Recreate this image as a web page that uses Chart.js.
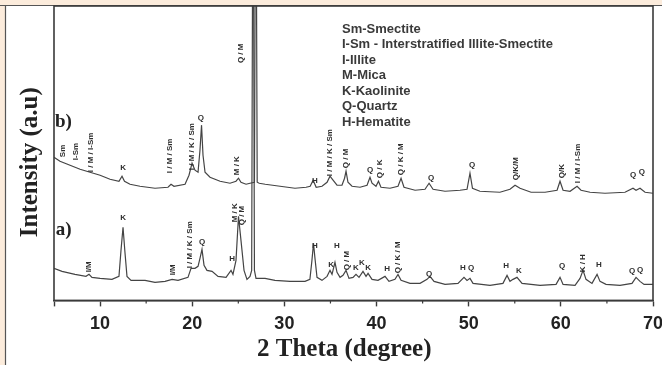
<!DOCTYPE html>
<html>
<head>
<meta charset="utf-8">
<script src="https://cdn.jsdelivr.net/npm/chart.js@4.4.1/dist/chart.umd.min.js"></script>
<style>
    html, body { margin: 0; padding: 0; background: #ffffff; }
    #xrd { display: block; }
</style>
</head>
<body>
<canvas id="xrd" width="662" height="365"></canvas>
<script>
// 2 theta (degree) and intensity (a.u.)
const twoThetaA = [5.0, 5.87, 7.28, 8.47, 8.8, 9.12, 10.0, 11.29, 12.05, 12.27, 12.49, 12.7, 12.92, 13.36, 14.88, 15.96,
    17.05, 17.81, 18.46, 19.54, 19.87, 20.3, 20.63, 20.84, 21.06, 21.28, 21.6, 22.15, 22.8, 23.67, 24.21, 24.42,
    24.75, 25.02, 25.29, 25.62, 25.94, 26.27, 26.45, 26.6, 26.75, 26.92, 27.9, 28.98, 30.61, 32.24, 32.77, 32.99,
    33.16, 33.32, 33.54, 34.08, 34.63, 34.95, 35.17, 35.49, 35.71, 36.04, 36.36, 36.69, 37.01, 37.45, 37.77, 38.1,
    38.53, 38.86, 39.08, 39.51, 40.16, 40.92, 41.35, 42.0, 42.33, 42.66, 43.63, 44.72, 45.48, 45.8, 46.24, 47.43,
    48.84, 49.49, 49.82, 50.14, 50.47, 52.31, 53.72, 54.16, 54.48, 54.81, 55.24, 55.79, 57.74, 59.48, 59.91, 60.24,
    61.54, 62.08, 62.41, 62.73, 63.38, 63.93, 64.25, 64.9, 66.42, 67.72, 68.16, 68.59, 69.03, 70.0];
const intensityA = [32, 29, 26, 24, 26, 23, 22, 21, 24, 50, 73, 48, 24, 20, 20, 18,
    19, 21, 20, 23, 32, 32, 34, 42, 51, 35, 30, 29, 24, 23, 30, 26,
    40, 84, 60, 30, 21, 24, 30, 500, 30, 22, 22, 20, 19, 19, 21, 40,
    57, 42, 23, 20, 24, 30, 26, 38, 28, 23, 25, 30, 22, 23, 26, 23,
    29, 24, 27, 21, 20, 24, 19, 21, 26, 20, 17, 17, 21, 24, 19, 16,
    17, 23, 20, 22, 17, 15, 17, 25, 19, 21, 23, 17, 15, 16, 23, 16,
    15, 22, 30, 21, 17, 26, 19, 16, 15, 17, 23, 19, 16, 16];

const twoThetaB = [5.0, 5.65, 6.74, 7.83, 8.91, 10.0, 11.08, 12.05, 12.38, 12.65, 13.25, 14.33, 15.96, 17.37, 17.7, 18.02,
    19.22, 19.65, 19.98, 20.3, 20.63, 20.84, 21.01, 21.17, 21.39, 21.93, 23.02, 24.1, 24.75, 25.02, 25.29, 25.84,
    26.27, 26.75, 26.9, 27.05, 27.27, 27.92, 29.53, 31.15, 32.36, 32.8, 33.12, 33.45, 34.08, 34.63, 34.95, 35.28,
    35.71, 36.25, 36.53, 36.69, 36.9, 37.34, 38.21, 38.97, 39.29, 39.51, 39.94, 40.21, 40.48, 41.46, 42.33, 42.66,
    42.98, 44.18, 45.26, 45.7, 46.13, 47.43, 49.06, 49.82, 50.14, 50.41, 51.22, 53.39, 54.48, 55.03, 55.57, 56.77,
    58.29, 59.59, 59.91, 60.24, 61.0, 61.76, 62.19, 63.17, 64.79, 66.96, 67.83, 68.16, 68.59, 69.14, 70.0];
const intensityB = [143, 139, 135, 131, 128, 125, 121, 119, 124, 119, 116, 114, 112, 113, 116, 114,
    116, 125, 137, 130, 128, 150, 175, 145, 128, 123, 119, 117, 119, 122, 118, 116,
    117, 118, 500, 118, 117, 116, 114, 112, 113, 114, 120, 113, 114, 118, 124, 120,
    115, 115, 122, 129, 118, 114, 113, 115, 123, 117, 114, 119, 113, 112, 114, 122,
    113, 110, 111, 117, 111, 109, 110, 111, 127, 112, 109, 108, 111, 115, 112, 108,
    108, 110, 119, 110, 109, 114, 110, 108, 107, 108, 112, 110, 112, 108, 107];

const xTicks = [10, 20, 30, 40, 50, 60, 70];

// peak labels: [text, 2 theta, intensity, vertical]
const peaksB = [
    ['Sm', 5.98, 143, true], ['I-Sm', 7.39, 140, true], ['I / M / I-Sm', 9.02, 128, true],
    ['K', 12.49, 132, false], ['I / M / Sm', 17.59, 127, true], ['I / M / K / Sm', 19.98, 130, true],
    ['Q', 20.95, 182, false], ['M / K', 24.86, 125, true], ['Q / M', 25.3, 237, true],
    ['H', 33.32, 119, false], ['I / M / K / Sm', 34.95, 124, true], ['Q / M', 36.69, 132, true],
    ['Q', 39.29, 130, false], ['Q / K', 40.38, 122, true], ['Q / K / M', 42.66, 125, true],
    ['Q', 45.91, 122, false], ['Q', 50.36, 135, false], ['Q/K/M', 55.14, 120, true],
    ['Q/K', 60.13, 122, true], ['I / M / I-Sm', 61.86, 117, true], ['Q', 67.83, 125, false],
    ['Q', 68.8, 128, false]
];
const peaksA = [
    ['I/M', 8.8, 28, true], ['K', 12.49, 82, false], ['I/M', 17.91, 25, true],
    ['I / M / K / Sm', 19.76, 32, true], ['Q', 21.06, 59, false], ['H', 24.32, 42, false],
    ['M / K', 24.64, 78, true], ['Q / M', 25.4, 75, true], ['H', 33.32, 55, false],
    ['K', 35.06, 36, false], ['H', 35.71, 55, false], ['Q / M', 36.8, 30, true],
    ['K', 37.77, 33, false], ['K', 38.42, 38, false], ['K', 39.08, 33, false],
    ['H', 41.14, 32, false], ['Q / K / M', 42.33, 27, true], ['Q', 45.7, 27, false],
    ['H', 49.38, 33, false], ['Q', 50.25, 33, false], ['H', 54.05, 35, false],
    ['K', 55.46, 30, false], ['Q', 60.13, 35, false], ['K / H', 62.4, 28, true],
    ['H', 64.14, 36, false], ['Q', 67.72, 30, false], ['Q', 68.6, 31, false]
];

const keyLines = ['Sm-Smectite', 'I-Sm - Interstratified Illite-Smectite', 'I-Illite', 'M-Mica',
    'K-Kaolinite', 'Q-Quartz', 'H-Hematite'];
const seriesNames = [['b)', 5.1, 178], ['a)', 5.2, 70]];
const xTitle = '2 Theta (degree)';
const yTitle = 'Intensity (a.u)';

const ink = '#3a3a3a';
const trace = '#444444';
const serif = '"Liberation Serif", "Times New Roman", serif';
const sans = '"Liberation Sans", Arial, sans-serif';

const toPoints = (xs, ys) => xs.map((x, i) => ({ x: x, y: ys[i] }));

const framePlugin = {
    id: 'frame',
    beforeDraw: (chart) => {
        const { ctx, width, height } = chart;
        ctx.save();
        ctx.fillStyle = '#ffffff';
        ctx.fillRect(0, 0, width, height);
        ctx.fillStyle = '#fcecdc';
        ctx.fillRect(0, 0, width, 5);
        ctx.fillRect(0, 0, 5, height);
        ctx.strokeStyle = '#555';
        ctx.lineWidth = 1.2;
        ctx.beginPath();
        ctx.moveTo(0, 5.5); ctx.lineTo(width, 5.5);
        ctx.moveTo(5.5, 5.5); ctx.lineTo(5.5, height);
        ctx.stroke();
        ctx.restore();
    },
    afterDatasetsDraw: (chart) => {
        const { ctx, chartArea: a, scales } = chart;
        const x = scales.x, y = scales.y;
        ctx.save();
        ctx.strokeStyle = ink;
        ctx.lineWidth = 1.6;
        ctx.strokeRect(a.left, a.top, a.right - a.left, a.bottom - a.top);

        // minor ticks half way between the labelled ones
        ctx.lineWidth = 1.2;
        ctx.beginPath();
        for (let v = 15; v < 70; v += 10) {
            const px = x.getPixelForValue(v);
            ctx.moveTo(px, a.bottom);
            ctx.lineTo(px, a.bottom + 3);
        }
        ctx.stroke();

        ctx.fillStyle = '#2e2e2e';
        ctx.font = 'bold 8px ' + sans;
        [...peaksB, ...peaksA].forEach(([text, tx, ty, vertical]) => {
            const px = x.getPixelForValue(tx);
            const py = y.getPixelForValue(ty);
            if (vertical) {
                ctx.save();
                ctx.translate(px, py);
                ctx.rotate(-Math.PI / 2);
                ctx.textAlign = 'left';
                ctx.textBaseline = 'middle';
                ctx.fillText(text, 0, 0);
                ctx.restore();
            } else {
                ctx.textAlign = 'center';
                ctx.textBaseline = 'middle';
                ctx.fillText(text, px, py);
            }
        });

        ctx.font = 'bold 13px ' + sans;
        ctx.fillStyle = '#3a3a3a';
        ctx.textAlign = 'left';
        ctx.textBaseline = 'middle';
        keyLines.forEach((line, i) => {
            ctx.fillText(line, x.getPixelForValue(36.25), y.getPixelForValue(271) + i * 15.5);
        });

        ctx.font = 'bold 19px ' + serif;
        ctx.fillStyle = '#222';
        seriesNames.forEach(([text, tx, ty]) => {
            ctx.fillText(text, x.getPixelForValue(tx), y.getPixelForValue(ty));
        });

        // axis titles
        ctx.font = 'bold 25px ' + serif;
        ctx.textAlign = 'center';
        ctx.fillText(xTitle, x.getPixelForValue(36.5), a.bottom + 49);
        ctx.save();
        ctx.translate(31, y.getPixelForValue(138));
        ctx.rotate(-Math.PI / 2);
        ctx.fillText(yTitle, 0, 0);
        ctx.restore();
        ctx.restore();
    }
};

new Chart(document.getElementById('xrd'), {
    type: 'line',
    data: {
        datasets: [
            {
                label: 'b)',
                data: toPoints(twoThetaB, intensityB),
                borderColor: trace,
                borderWidth: 1.2,
                pointRadius: 0,
                tension: 0,
                fill: false
            },
            {
                label: 'a)',
                data: toPoints(twoThetaA, intensityA),
                borderColor: trace,
                borderWidth: 1.2,
                pointRadius: 0,
                tension: 0,
                fill: false
            }
        ]
    },
    options: {
        responsive: false,
        animation: false,
        devicePixelRatio: 1,
        layout: { padding: { left: 54, right: 9, top: 6, bottom: 23 } },
        plugins: {
            legend: { display: false },
            tooltip: { enabled: false }
        },
        scales: {
            x: {
                type: 'linear',
                min: 5,
                max: 70,
                afterBuildTicks: (scale) => {
                    scale.ticks = [5, ...xTicks].map(v => ({ value: v }));
                },
                // let the "70" label hang over the right edge like the original
                afterFit: (scale) => {
                    scale.paddingRight = 0;
                    scale.paddingLeft = 0;
                },
                ticks: {
                    color: '#222',
                    font: { family: sans, size: 18, weight: 'bold' },
                    padding: 7,
                    maxRotation: 0,
                    callback: (v) => (v % 10 === 0 ? v : '')
                },
                grid: {
                    drawOnChartArea: false,
                    drawTicks: true,
                    tickLength: 6,
                    tickColor: ink,
                    tickWidth: 1.4
                },
                border: { display: true, color: ink, width: 1.6 }
            },
            y: {
                display: false,
                min: 0,
                max: 294
            }
        }
    },
    plugins: [framePlugin]
});
</script>
</body>
</html>
